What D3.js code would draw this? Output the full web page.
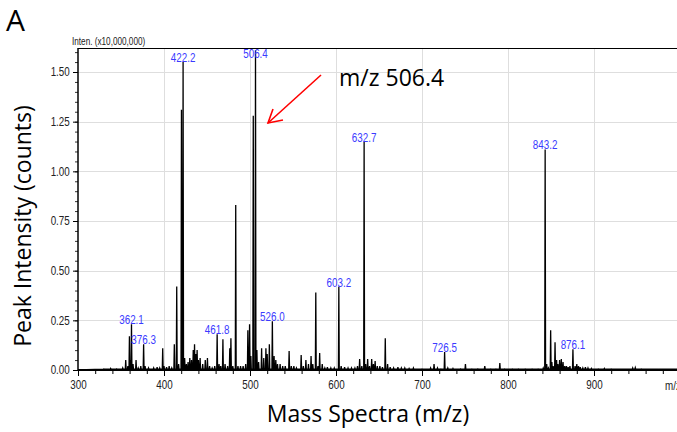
<!DOCTYPE html>
<html>
<head>
<meta charset="utf-8">
<script src="https://cdn.jsdelivr.net/npm/d3@7"></script>
<style>
  body { margin: 0; background: #fff; }
  svg { display: block; }
</style>
</head>
<body>
<script>
var width = 677, height = 432;

// spectrum sticks: m/z and intensity (x10,000,000)
const mzValues = [330, 338, 345, 352, 355.5, 358, 359.8, 361, 362.2, 364, 367.5, 370, 373, 376.3, 378, 382, 388, 392, 395, 398.5,
  400, 403, 406, 409, 412, 414.8, 417, 420.3, 422.2, 424, 426, 428, 430, 432, 434, 435.5, 437, 438.5, 440, 442,
  445, 448, 450.5, 453, 456, 459, 461.8, 464, 466, 468.5, 471, 474, 476.5, 477.8, 480, 483.4, 486, 489, 492, 495,
  497.5, 499.5, 501, 503.8, 506.4, 508, 510, 513.5, 516, 518.5, 520, 522.5, 526, 528, 530, 532, 535, 538, 541, 545.5,
  548, 551, 554, 559.5, 562, 565, 568, 571, 573, 576.5, 579, 581, 584, 587, 590, 594, 598, 603.3, 606, 610,
  614, 618, 622, 625, 627.5, 630, 632.7, 634.5, 636.8, 639, 641.5, 643.5, 645.5, 648, 651, 654, 657.3, 660, 663, 667,
  672, 676, 680, 685, 690, 700, 710, 714, 718, 722, 726.3, 730, 736, 745, 750.5, 758, 765, 773, 780, 786,
  790.5, 796, 805, 812, 820, 828, 835, 841, 843.2, 845, 847, 849.6, 851, 852.5, 854.7, 856.5, 858, 860, 862, 864,
  866, 868, 870, 872, 875.5, 878, 880, 882, 884, 887, 890, 893, 897, 905, 912, 920, 935, 945, 948, 955,
  965, 975, 985, 995];
const intensities = [0.005, 0.008, 0.006, 0.01, 0.05, 0.02, 0.17, 0.05, 0.23, 0.03, 0.05, 0.01, 0.02, 0.13, 0.02, 0.01, 0.01, 0.015, 0.01, 0.11,
  0.02, 0.015, 0.02, 0.01, 0.13, 0.42, 0.03, 1.31, 1.55, 0.06, 0.03, 0.04, 0.06, 0.05, 0.1, 0.13, 0.08, 0.1, 0.05, 0.06,
  0.03, 0.05, 0.06, 0.02, 0.01, 0.02, 0.18, 0.03, 0.02, 0.155, 0.03, 0.02, 0.11, 0.16, 0.02, 0.83, 0.02, 0.02, 0.02, 0.03,
  0.2, 0.23, 0.07, 1.28, 1.61, 0.1, 0.04, 0.11, 0.06, 0.11, 0.08, 0.13, 0.245, 0.07, 0.05, 0.03, 0.03, 0.02, 0.02, 0.095,
  0.02, 0.02, 0.01, 0.075, 0.02, 0.05, 0.03, 0.07, 0.03, 0.39, 0.02, 0.085, 0.03, 0.01, 0.015, 0.01, 0.01, 0.42, 0.02, 0.015,
  0.01, 0.01, 0.01, 0.02, 0.055, 0.02, 1.15, 0.03, 0.055, 0.02, 0.055, 0.03, 0.045, 0.02, 0.02, 0.015, 0.16, 0.03, 0.015, 0.01,
  0.015, 0.01, 0.01, 0.008, 0.01, 0.005, 0.01, 0.03, 0.01, 0.005, 0.09, 0.01, 0.008, 0.006, 0.03, 0.005, 0.006, 0.02, 0.005, 0.005,
  0.035, 0.005, 0.005, 0.005, 0.005, 0.005, 0.005, 0.01, 1.11, 0.03, 0.01, 0.2, 0.04, 0.02, 0.14, 0.05, 0.03, 0.05, 0.055, 0.04,
  0.02, 0.02, 0.015, 0.02, 0.105, 0.02, 0.03, 0.02, 0.015, 0.01, 0.015, 0.01, 0.008, 0.005, 0.008, 0.005, 0.004, 0.01, 0.012, 0.005,
  0.004, 0.003, 0.004, 0.003];

// labelled peaks: label text, and the m/z of the stick it sits on
const peakLabels = ["362.1", "376.3", "422.2", "461.8", "506.4", "526.0", "603.2", "632.7", "726.5", "843.2", "876.1"];
const peakLabelMz = [362.2, 376.3, 422.2, 461.8, 506.4, 526, 603.3, 632.7, 726.3, 843.2, 875.5];

const xMajor = [300, 400, 500, 600, 700, 800, 900];
const yMajor = [0, 0.25, 0.5, 0.75, 1.0, 1.25, 1.5];

const margin = {left: 78, top: 48, bottom: 370};

const x = d3.scaleLinear().domain([300, 1000]).range([margin.left, 680]);
const y = d3.scaleLinear().domain([0, 1.5]).range([margin.bottom, 72]);

var svg = d3.select("body")
  .append("svg")
  .attr("width", width)
  .attr("height", height);

const tickFont = "'Liberation Sans', Arial, sans-serif";
const bigFont = "'Open Sans', 'Noto Sans', sans-serif";
const squeeze = "scale(0.82,1)"; // narrow look of the instrument font

// grid
var grid = svg.append("g").attr("stroke", "#dedede").attr("stroke-width", 1);
grid.selectAll("line.gy")
  .data(yMajor.slice(1))
  .enter().append("line")
  .attr("x1", margin.left).attr("x2", width)
  .attr("y1", d => Math.round(y(d)) + 0.5).attr("y2", d => Math.round(y(d)) + 0.5);
grid.selectAll("line.gx")
  .data(xMajor.slice(1))
  .enter().append("line")
  .attr("y1", margin.top).attr("y2", margin.bottom)
  .attr("x1", d => Math.round(x(d)) + 0.5).attr("x2", d => Math.round(x(d)) + 0.5);

// top border
svg.append("line")
  .attr("x1", margin.left).attr("x2", width)
  .attr("y1", margin.top + 0.5).attr("y2", margin.top + 0.5)
  .attr("stroke", "#000").attr("stroke-width", 1.2);

// spectrum as one profile line
var pts = [[300, 0]];
mzValues.forEach((m, i) => {
  pts.push([m - 0.5, 0.004]);
  pts.push([m, intensities[i]]);
  pts.push([m + 0.5, 0.004]);
});
pts.push([1000, 0.003]);

var line = d3.line().x(d => x(d[0])).y(d => y(d[1]));
svg.append("path")
  .datum(pts)
  .attr("d", line)
  .attr("fill", "none")
  .attr("stroke", "#000")
  .attr("stroke-width", 1.3);

// y axis
var yMinor = d3.range(0, 1.62, 0.05);
svg.append("g")
  .attr("transform", `translate(${margin.left},0)`)
  .call(d3.axisLeft(y).tickValues(yMinor).tickSize(3).tickFormat(""))
  .call(g => g.select(".domain").remove())
  .call(g => g.selectAll("line").attr("stroke", "#333"));
svg.append("g")
  .attr("transform", `translate(${margin.left},0)`)
  .call(d3.axisLeft(y).tickValues(yMajor).tickSize(5).tickPadding(3).tickFormat(d3.format(".2f")))
  .call(g => g.select(".domain").remove())
  .call(g => g.selectAll("text").attr("font-family", tickFont).attr("font-size", 12).attr("fill", "#222")
    .attr("x", -10).attr("transform", squeeze));
svg.append("line")
  .attr("x1", margin.left).attr("x2", margin.left)
  .attr("y1", margin.top).attr("y2", margin.bottom + 1)
  .attr("stroke", "#000").attr("stroke-width", 1.5);

// x axis
var xMinor = d3.range(300, 1000, 20);
svg.append("g")
  .attr("transform", `translate(0,${margin.bottom})`)
  .call(d3.axisBottom(x).tickValues(xMinor).tickSize(4).tickFormat(""))
  .call(g => g.select(".domain").remove());
svg.append("g")
  .attr("transform", `translate(0,${margin.bottom})`)
  .call(d3.axisBottom(x).tickValues(xMajor).tickSize(6).tickPadding(4).tickFormat(d3.format("d")))
  .call(g => g.select(".domain").remove())
  .call(g => g.selectAll("text").attr("font-family", tickFont).attr("font-size", 12).attr("fill", "#222")
    .attr("transform", squeeze));
svg.append("line")
  .attr("x1", margin.left).attr("x2", width)
  .attr("y1", margin.bottom).attr("y2", margin.bottom)
  .attr("stroke", "#000").attr("stroke-width", 2);
svg.append("text")
  .attr("transform", `translate(665,390) ${squeeze}`)
  .attr("font-family", tickFont).attr("font-size", 12).attr("fill", "#222")
  .text("m/z");

// peak labels
svg.append("g")
  .selectAll("text")
  .data(peakLabels)
  .enter().append("text")
  .attr("transform", (d, i) => {
    var h = intensities[mzValues.indexOf(peakLabelMz[i])];
    return `translate(${x(peakLabelMz[i])},${Math.max(y(h), 58)}) ${squeeze}`;
  })
  .attr("text-anchor", "middle")
  .attr("font-family", tickFont)
  .attr("font-size", 12)
  .attr("fill", "#3a3aff")
  .text(d => d);

// titles
svg.append("text")
  .attr("transform", `translate(72,45) ${squeeze}`)
  .attr("font-family", tickFont).attr("font-size", 10).attr("fill", "#222")
  .text("Inten. (x10,000,000)");

svg.append("text")
  .attr("x", 6).attr("y", 31)
  .attr("font-family", bigFont).attr("font-size", 30).attr("fill", "#000")
  .text("A");

svg.append("text")
  .attr("transform", "translate(31,226) rotate(-90)")
  .attr("text-anchor", "middle")
  .attr("font-family", bigFont).attr("font-size", 23).attr("fill", "#000")
  .text("Peak Intensity (counts)");

svg.append("text")
  .attr("x", 368).attr("y", 422)
  .attr("text-anchor", "middle")
  .attr("font-family", bigFont).attr("font-size", 23).attr("fill", "#000")
  .text("Mass Spectra (m/z)");

svg.append("text")
  .attr("x", 339).attr("y", 86)
  .attr("font-family", bigFont).attr("font-size", 23).attr("fill", "#000")
  .text("m/z 506.4");

// red arrow
var arrow = svg.append("g").attr("stroke", "#ff0000").attr("stroke-width", 1.6).attr("fill", "none");
arrow.append("line").attr("x1", 321).attr("y1", 75).attr("x2", 268).attr("y2", 123);
arrow.append("polyline").attr("points", "283,120 268,123 273,109");
</script>
</body>
</html>
